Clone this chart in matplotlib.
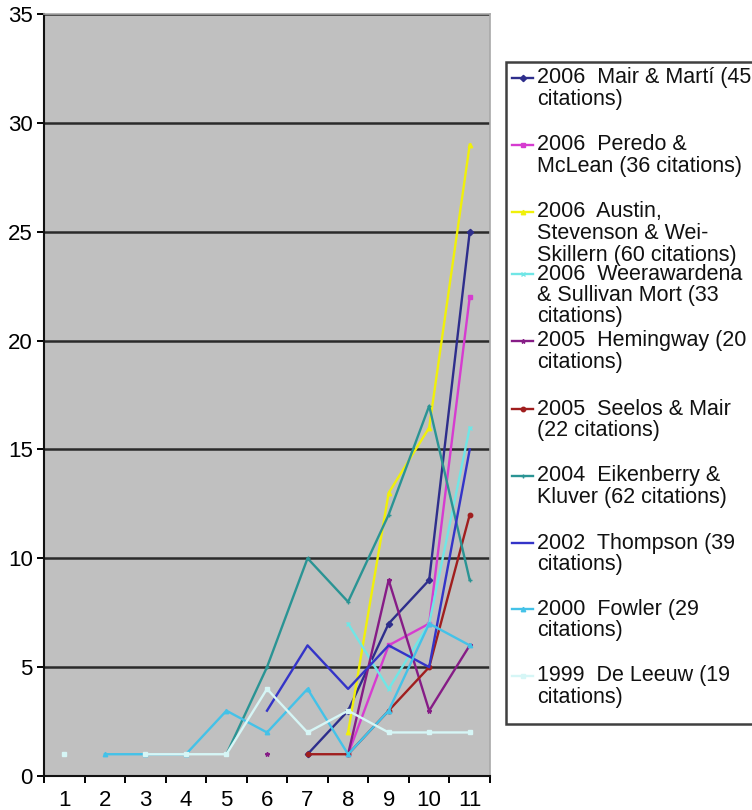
import numpy as np
import matplotlib
matplotlib.use("Agg")
import matplotlib.pyplot as plt
from matplotlib.lines import Line2D
from matplotlib.patches import Rectangle

nan = np.nan

# Category positions on the x axis
periods = [1, 2, 3, 4, 5, 6, 7, 8, 9, 10, 11]

# Citations per period for each paper (blank = no data)
mair_marti = [nan, nan, nan, nan, nan, nan, 1, 3, 7, 9, 25]
peredo_mclean = [nan, nan, nan, nan, nan, nan, nan, 1, 6, 7, 22]
austin_et_al = [nan, nan, nan, nan, nan, nan, nan, 2, 13, 16, 29]
weerawardena = [nan, nan, nan, nan, nan, nan, nan, 7, 4, 7, 16]
hemingway = [nan, nan, nan, nan, nan, 1, nan, 1, 9, 3, 6]
seelos_mair = [nan, nan, nan, nan, nan, nan, 1, 1, 3, 5, 12]
eikenberry = [nan, nan, nan, nan, 1, 5, 10, 8, 12, 17, 9]
thompson = [nan, nan, nan, nan, nan, 3, 6, 4, 6, 5, 15]
fowler = [nan, 1, 1, 1, 3, 2, 4, 1, 3, 7, 6]
de_leeuw = [1, nan, 1, 1, 1, 4, 2, 3, 2, 2, 2]

series = [mair_marti, peredo_mclean, austin_et_al, weerawardena, hemingway,
          seelos_mair, eikenberry, thompson, fowler, de_leeuw]

labels = [
    "2006  Mair & Martí (45\ncitations)",
    "2006  Peredo &\nMcLean (36 citations)",
    "2006  Austin,\nStevenson & Wei-\nSkillern (60 citations)",
    "2006  Weerawardena\n& Sullivan Mort (33\ncitations)",
    "2005  Hemingway (20\ncitations)",
    "2005  Seelos & Mair\n(22 citations)",
    "2004  Eikenberry &\nKluver (62 citations)",
    "2002  Thompson (39\ncitations)",
    "2000  Fowler (29\ncitations)",
    "1999  De Leeuw (19\ncitations)",
]

colors = ["#2e2e8c", "#d63cd0", "#f0f00a", "#70e6e6", "#861c86",
          "#a01e1e", "#2a9494", "#3434c8", "#44c2e8", "#d6f6f6"]
markers = ["D", "s", "^", "x", "*", "o", "+", "", "^", "s"]

yticks = [0, 5, 10, 15, 20, 25, 30, 35]

plt.rcParams["font.family"] = ["Liberation Sans", "DejaVu Sans"]

W, H = 752, 810
fig = plt.figure(figsize=(W / 100, H / 100), dpi=100)
fig.patch.set_facecolor("white")

# plot area in pixel extents
L, R, T, B = 44, 490, 14, 776
ax = fig.add_axes([L / W, 1 - B / H, (R - L) / W, (B - T) / H])
ax.set_facecolor("#c0c0c0")

for vals, col, mk in zip(series, colors, markers):
    ax.plot(periods, vals, color=col, lw=1.7, marker=mk if mk else None,
            markersize=3.2, markeredgewidth=1.0, zorder=3)

ax.set_xlim(0.5, 11.5)
ax.set_ylim(0, 35)
ax.set_yticks(yticks)
ax.set_yticklabels([str(v) for v in yticks], fontsize=16)
ax.yaxis.grid(True, color="#2a2a2a", lw=1.8, zorder=1)
ax.set_axisbelow(True)

ax.set_xticks(periods)
ax.set_xticklabels([str(p) for p in periods], fontsize=16)
ax.set_xticks(np.arange(0.5, 12, 1), minor=True)
ax.tick_params(axis="x", which="major", length=0, pad=10)
ax.tick_params(axis="x", which="minor", length=5, width=1.4, direction="out")
ax.tick_params(axis="y", which="major", length=5, width=1.4, direction="out", pad=3)

for s in ["left", "bottom"]:
    ax.spines[s].set_color("#111111")
    ax.spines[s].set_linewidth(1.5)
for s in ["top", "right"]:
    ax.spines[s].set_color("#a8a8a8")
    ax.spines[s].set_linewidth(1.2)

# legend box, drawn in pixel coordinates of the figure
def fx(px):
    return px / W

def fy(py):
    return 1 - py / H

box = Rectangle((fx(506), fy(724)), fx(800) - fx(506), fy(62) - fy(724),
                transform=fig.transFigure, facecolor="white",
                edgecolor="#404040", lw=1.8, clip_on=False)
fig.add_artist(box)

first_line_y = [78, 145, 212, 274, 341, 409, 476, 543, 609, 676]
line_step = 21.5
for lab, col, mk, y0 in zip(labels, colors, markers, first_line_y):
    fig.add_artist(Line2D([fx(512), fx(533)], [fy(y0), fy(y0)],
                          transform=fig.transFigure, color=col, lw=1.7))
    if mk:
        fig.add_artist(Line2D([fx(522.5)], [fy(y0)], transform=fig.transFigure,
                              color=col, marker=mk, markersize=3.2,
                              markeredgewidth=1.0, lw=0))
    for k, line in enumerate(lab.split("\n")):
        fig.text(fx(537), fy(y0 + k * line_step), line, fontsize=15.5,
                 va="center", ha="left", color="#111111")

fig.savefig("out.png", dpi=100)
